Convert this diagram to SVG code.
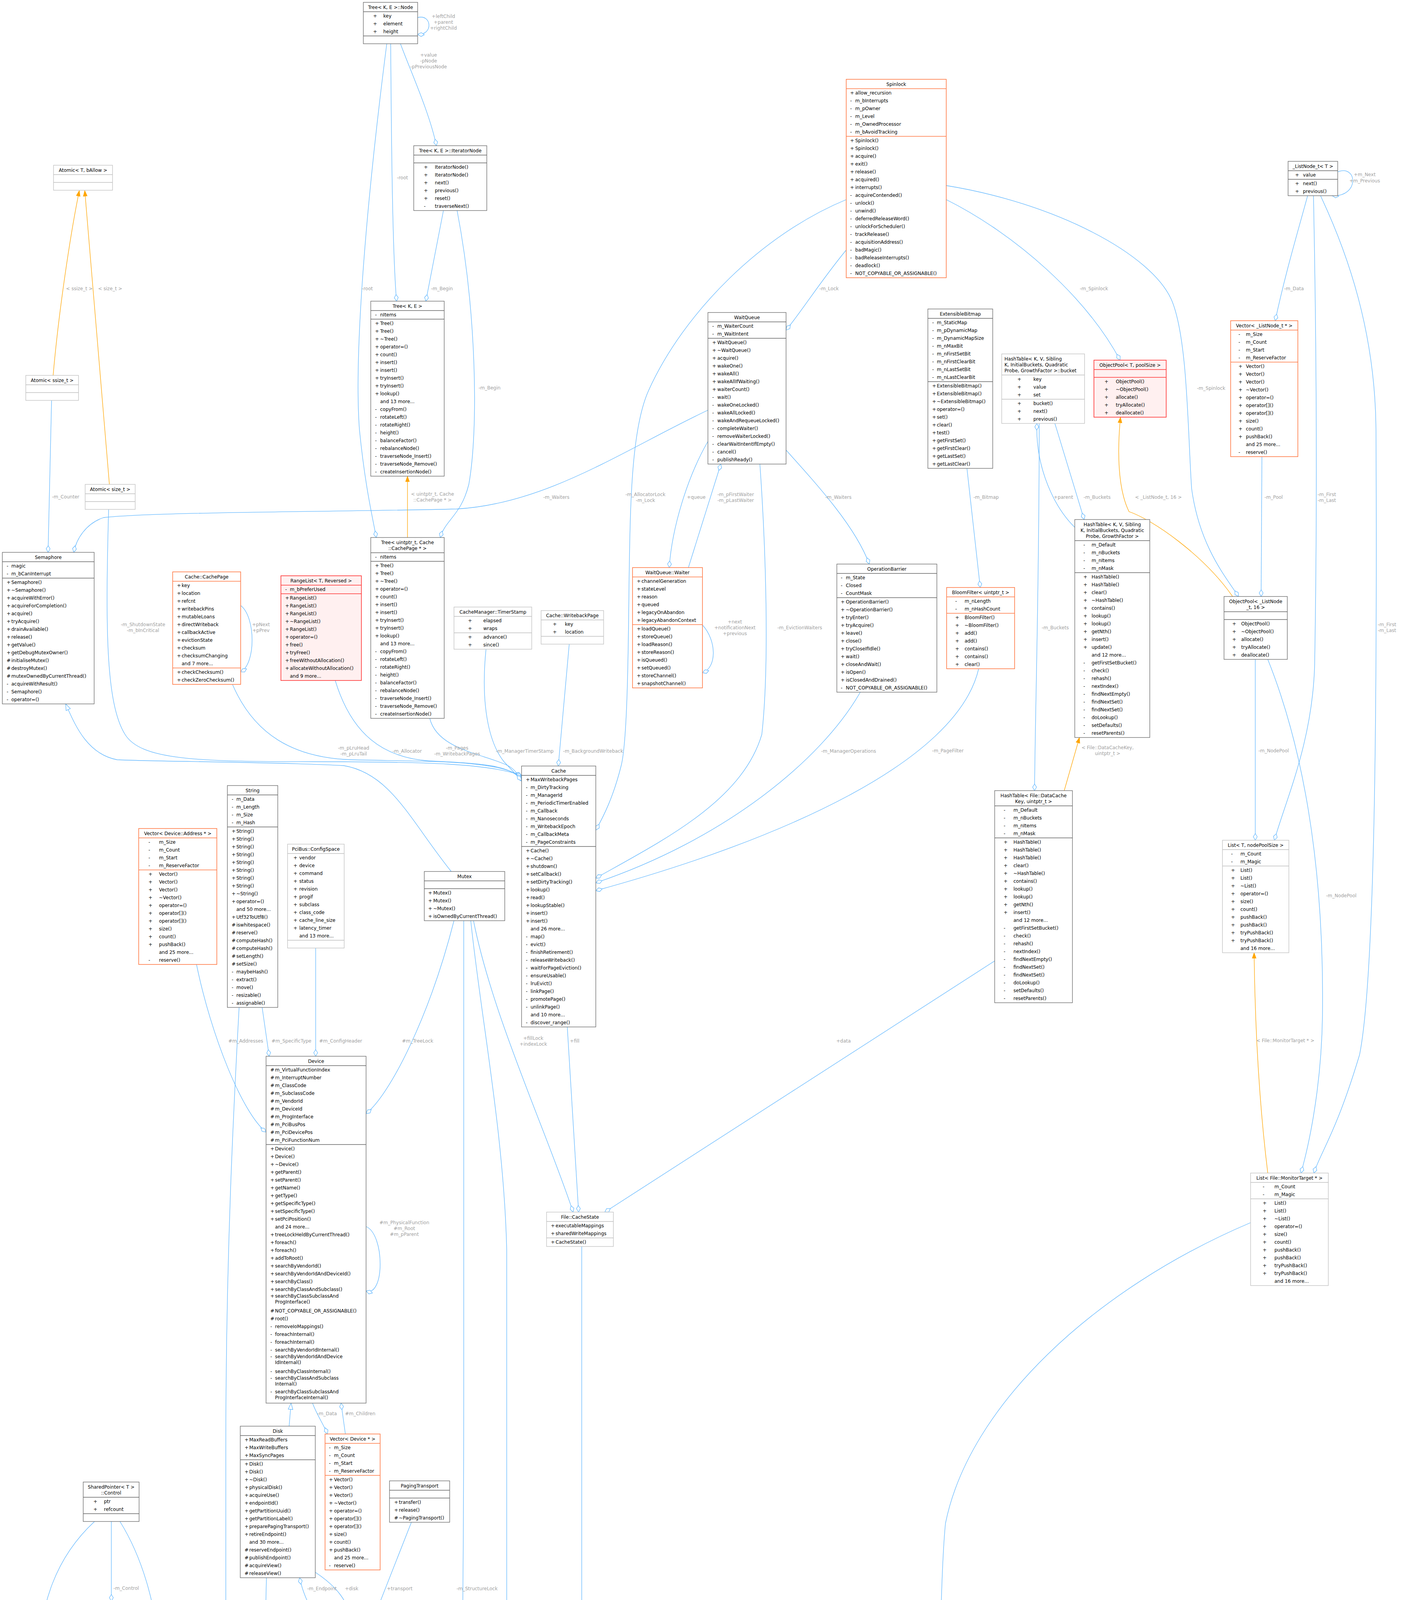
<svg xmlns="http://www.w3.org/2000/svg" width="3586" height="6736" viewBox="0 0 3586 6736">
<style>
text{font-family:"DejaVu Sans",sans-serif;font-size:12px;fill:#000}
.c{text-anchor:middle}
.l{fill:#a0a0a0;text-anchor:middle;font-size:12px}
.bd{fill:#fff;stroke:#666;stroke-width:1.3}
.bl{fill:#fff;stroke:#bfbfbf;stroke-width:1.3}
.bo{fill:#fff;stroke:#ff7a45;stroke-width:1.6}
.br{fill:#fff0f0;stroke:#ff3333;stroke-width:1.6}
.bg{fill:#999;stroke:#666;stroke-width:1.3}
.sd{stroke:#666;stroke-width:1.3}
.sl{stroke:#bfbfbf;stroke-width:1.3}
.so{stroke:#ff7a45;stroke-width:1.6}
.sr{stroke:#ff3333;stroke-width:1.6}
.e{fill:none;stroke:#63b8ff;stroke-width:1.3}
.o{fill:none;stroke:#ffa500;stroke-width:1.3}
.d{marker-end:url(#dm)}
.t{marker-end:url(#tm)}
.i{marker-end:url(#im)}
</style>
<defs>
<marker id="dm" markerUnits="userSpaceOnUse" markerWidth="20" markerHeight="12" refX="18" refY="6" orient="auto" viewBox="0 0 20 12"><path d="M1,6 L9,1 L18,6 L9,11 Z" fill="#fff" stroke="#63b8ff" stroke-width="1.3"/></marker>
<marker id="tm" markerUnits="userSpaceOnUse" markerWidth="16" markerHeight="12" refX="15" refY="6" orient="auto" viewBox="0 0 16 12"><path d="M1,1 L15,6 L1,11 Z" fill="#ffa500" stroke="#ffa500"/></marker>
<marker id="im" markerUnits="userSpaceOnUse" markerWidth="18" markerHeight="14" refX="17" refY="7" orient="auto" viewBox="0 0 18 14"><path d="M1,1 L17,7 L1,13 Z" fill="#fff" stroke="#63b8ff" stroke-width="1.3"/></marker>
</defs>
<rect width="3586" height="6736" fill="#fff"/>
<g id="edges">
<path class="e d" d="M1069,45 C1105,35 1110,90 1069,88"/>
<path class="e d" d="M1025,112 C1050,180 1100,290 1117,373"/>
<path class="e d" d="M1000,112 C1002,400 1005,650 1015,771"/>
<path class="e d" d="M990,112 C940,500 905,900 920,1100 C935,1250 955,1330 963,1376"/>
<path class="e d" d="M1135,539 L1090,771"/>
<path class="e d" d="M1170,539 C1220,800 1225,1100 1200,1240 C1180,1320 1140,1330 1127,1376"/>
<path class="o t" d="M136,961 C150,800 180,600 203,488"/>
<path class="o t" d="M280,1240 L217,488"/>
<path class="e d" d="M132,1025 L123,1414"/>
<path class="e d" d="M278,1304 C270,1600 270,1800 320,1880 C360,1945 500,1950 800,1950 C1100,1950 1250,1955 1335,1985"/>
<path class="e d" d="M1812,1050 C1600,1150 1400,1290 1169,1303 C900,1310 400,1310 265,1325 C220,1340 195,1380 189,1414"/>
<path class="e d" d="M2166,640 C2100,720 2050,800 2012,845"/>
<path class="e d" d="M2166,511 C1950,600 1750,800 1660,1000 C1615,1100 1613,1300 1610,1500 C1608,1700 1605,1900 1590,1960 C1570,2040 1545,2090 1525,2125"/>
<path class="e d" d="M2422,511 C2600,600 2780,760 2867,922"/>
<path class="e d" d="M2422,475 C2700,520 2950,650 3000,771 C3040,870 3040,1100 3050,1250 C3070,1400 3140,1480 3170,1527"/>
<path class="e d" d="M1812,1130 C1760,1220 1720,1350 1713,1453"/>
<path class="e d" d="M1762,1453 L1845,1188"/>
<path class="e d" d="M1798,1600 C1835,1640 1835,1710 1798,1722"/>
<path class="e d" d="M1945,1188 C1960,1400 1970,1700 1950,1880 C1900,2050 1700,2150 1525,2248"/>
<path class="e d" d="M2010,1150 C2100,1250 2190,1350 2225,1444"/>
<path class="e d" d="M2202,1772 C2100,1950 1850,2150 1525,2260"/>
<path class="e d" d="M2505,1712 C2450,1950 2000,2150 1525,2280"/>
<path class="e d" d="M2475,1199 L2509,1504"/>
<path class="e d" d="M2751,1350 C2700,1300 2650,1200 2654,1084"/>
<path class="e d" d="M2700,1084 C2730,1180 2760,1280 2775,1330"/>
<path class="e d" d="M2660,1084 C2660,1500 2650,1800 2648,2024"/>
<path class="o t" d="M2724,2024 L2763,1888"/>
<path class="e d" d="M3424,440 C3475,420 3480,505 3410,501"/>
<path class="e d" d="M3347,501 C3320,600 3290,700 3264,821"/>
<path class="e d" d="M3362,501 C3370,900 3372,1300 3365,1700 C3360,1900 3290,2050 3262,2151"/>
<path class="e d" d="M3380,501 C3450,650 3520,850 3522,1100 C3525,1800 3520,2500 3480,2700 C3420,2900 3380,2950 3363,3003"/>
<path class="e d" d="M3230,1169 L3228,1527"/>
<path class="o t" d="M3155,1527 C3080,1420 2950,1330 2890,1310 C2860,1250 2860,1150 2868,1068"/>
<path class="e d" d="M3213,1688 L3213,2151"/>
<path class="e d" d="M3245,1688 C3330,1900 3390,2200 3385,2600 C3382,2800 3345,2950 3330,3003"/>
<path class="o t" d="M3245,3003 C3220,2800 3212,2600 3210,2439"/>
<path class="e d" d="M3201,3130 C2800,3300 2480,3600 2420,3900 C2400,4100 2400,4800 2400,5200 C2400,5400 1500,5450 1300,5520 C1200,5560 1150,5660 1136,5740"/>
<path class="e d" d="M1489,3191 L1489,5250 C1489,5400 1250,5650 1136,5824"/>
<path class="e d" d="M1205,2357 C1230,2600 1290,2900 1297,3200 L1297,5300 C1290,5500 1200,5680 1136,5800"/>
<path class="e d" d="M1162,2357 C1100,2600 1000,2800 937,2851"/>
<path class="e d" d="M1187,2357 L1187,3500 C1187,4200 1180,4700 1160,4900 C1140,4960 1115,4980 1102,4989"/>
<path class="e d" d="M1212,2357 C1260,2600 1400,2900 1467,3103"/>
<path class="e d" d="M1452,2629 L1481,3103"/>
<path class="e d" d="M2546,2460 L1548,3103"/>
<path class="o t" d="M1043,1376 L1043,1219"/>
<path class="e d" d="M1100,1839 C1120,1920 1240,1930 1300,1960 C1320,1970 1330,1990 1335,2000"/>
<path class="e d" d="M595,1752 C650,1880 750,1940 900,1945 C1100,1950 1280,1945 1335,1990"/>
<path class="e d" d="M858,1742 C900,1880 980,1940 1100,1948 C1250,1955 1300,1960 1335,1995"/>
<path class="e d" d="M1244,1662 C1230,1800 1250,1900 1290,1950 L1335,1998"/>
<path class="e d" d="M1457,1649 L1429,1961"/>
<path class="e i" d="M1155,2231 C1050,2100 1000,1980 880,1960 C700,1950 400,1950 300,1945 C220,1930 190,1850 168,1802"/>
<path class="e d" d="M616,1550 C655,1580 655,1700 616,1720"/>
<path class="e d" d="M503,2469 C540,2650 620,2850 681,2898"/>
<path class="e d" d="M671,2579 L689,2704"/>
<path class="e d" d="M612,2579 C600,2800 578,3200 578,3700 L578,5200 C580,5600 800,5800 923,5890"/>
<path class="e d" d="M808,2427 L808,2704"/>
<path class="e d" d="M937,3140 C985,3160 985,3320 937,3305"/>
<path class="e d" d="M800,3592 C810,3620 830,3650 838,3671"/>
<path class="e d" d="M884,3671 L873,3592"/>
<path class="e i" d="M740,3651 L745,3592"/>
<path class="e d" d="M807,4025 C860,4060 895,4100 900,4159"/>
<path class="e d" d="M853,4200 C800,4140 775,4080 767,4039"/>
<path class="e d" d="M1053,3897 L950,4159"/>
<path class="e d" d="M853,4360 C820,4420 800,4490 806,4543"/>
<path class="e d" d="M892,4543 C905,4480 909,4420 909,4385"/>
<path class="e d" d="M950,4385 C975,4440 995,4520 1004,4574"/>
<path class="e d" d="M1030,4800 L1030,4929"/>
<path class="e d" d="M682,4039 C670,4500 680,4800 800,4950 C880,5050 930,5100 958,5121"/>
<path class="e d" d="M1030,5457 L1030,5518"/>
<path class="e d" d="M1136,5924 C1175,5950 1175,6080 1136,6090"/>
<path class="e d" d="M1392,6154 C1380,6350 1320,6520 1279,6566"/>
<path class="e i" d="M1190,6566 L1136,6390"/>
<path class="e d" d="M285,3895 L285,4099"/>
<path class="e d" d="M242,3895 C150,3980 95,4100 95,4300 C95,4420 100,4480 104,4507"/>
<path class="e d" d="M307,3895 C360,3980 400,4100 410,4250 C420,4400 430,4480 436,4507"/>
<path class="o t" d="M123,4507 C135,4470 160,4455 180,4450 C195,4440 205,4425 213,4400"/>
<path class="o t" d="M344,4563 C320,4530 305,4500 297,4445"/>
<path class="e d" d="M162,4868 L191,5089"/>
<path class="e d" d="M435,4868 L437,5049"/>
<path class="e i" d="M923,5945 C600,5800 340,5500 242,5295"/>
<path class="e i" d="M923,5915 C700,5750 560,5500 488,5335"/>
</g>
<g id="edge-labels">
<text class="l" x="1135" y="46">+leftChild</text><text class="l" x="1135" y="61">+parent</text><text class="l" x="1135" y="76">+rightChild</text>
<text class="l" x="1097" y="145">+value</text><text class="l" x="1097" y="160">-pNode</text><text class="l" x="1097" y="175">-pPreviousNode</text>
<text class="l" x="1030" y="459">-root</text><text class="l" x="940" y="743">-root</text>
<text class="l" x="1131" y="743">-m_Begin</text><text class="l" x="1253" y="997">-m_Begin</text>
<text class="l" x="203" y="743">&lt; ssize_t &gt;</text><text class="l" x="282" y="743">&lt; size_t &gt;</text>
<text class="l" x="168" y="1276">-m_Counter</text>
<text class="l" x="1107" y="1269">&lt; uintptr_t, Cache</text><text class="l" x="1107" y="1284">::CachePage * &gt;</text>
<text class="l" x="366" y="1603">-m_ShutdownState</text><text class="l" x="366" y="1618">-m_bInCritical</text>
<text class="l" x="668" y="1603">+pNext</text><text class="l" x="668" y="1618">+pPrev</text>
<text class="l" x="1424" y="1277">-m_Waiters</text>
<text class="l" x="1652" y="1270">-m_AllocatorLock</text><text class="l" x="1652" y="1285">-m_Lock</text>
<text class="l" x="1782" y="1277">+queue</text>
<text class="l" x="1883" y="1270">-m_pFirstWaiter</text><text class="l" x="1883" y="1285">-m_pLastWaiter</text>
<text class="l" x="2146" y="1277">-m_Waiters</text>
<text class="l" x="2122" y="743">-m_Lock</text>
<text class="l" x="2800" y="743">-m_Spinlock</text><text class="l" x="3100" y="998">-m_Spinlock</text>
<text class="l" x="2524" y="1277">-m_Bitmap</text><text class="l" x="2722" y="1277">+parent</text><text class="l" x="2808" y="1277">-m_Buckets</text>
<text class="l" x="2965" y="1277">&lt; _ListNode_t, 16 &gt;</text>
<text class="l" x="3260" y="1277">-m_Pool</text>
<text class="l" x="3396" y="1270">-m_First</text><text class="l" x="3396" y="1285">-m_Last</text>
<text class="l" x="3493" y="451">+m_Next</text><text class="l" x="3493" y="467">+m_Previous</text>
<text class="l" x="3312" y="743">-m_Data</text>
<text class="l" x="3550" y="1603">-m_First</text><text class="l" x="3550" y="1618">-m_Last</text>
<text class="l" x="1881" y="1596">+next</text><text class="l" x="1881" y="1611">+notificationNext</text><text class="l" x="1881" y="1626">+previous</text>
<text class="l" x="2047" y="1611">-m_EvictionWaiters</text>
<text class="l" x="2701" y="1611">-m_Buckets</text>
<text class="l" x="2835" y="1918">&lt; File::DataCacheKey,</text><text class="l" x="2835" y="1933">uintptr_t &gt;</text>
<text class="l" x="3260" y="1926">-m_NodePool</text><text class="l" x="3433" y="2297">-m_NodePool</text>
<text class="l" x="3290" y="2668">&lt; File::MonitorTarget * &gt;</text>
<text class="l" x="905" y="1919">-m_pLruHead</text><text class="l" x="905" y="1934">-m_pLruTail</text>
<text class="l" x="1042" y="1927">-m_Allocator</text>
<text class="l" x="1170" y="1919">-m_Pages</text><text class="l" x="1170" y="1934">-m_WritebackPages</text>
<text class="l" x="1343" y="1927">-m_ManagerTimerStamp</text>
<text class="l" x="1518" y="1927">-m_BackgroundWriteback</text>
<text class="l" x="2172" y="1927">-m_ManagerOperations</text>
<text class="l" x="2426" y="1926">-m_PageFilter</text>
<text class="l" x="629" y="2669">#m_Addresses</text><text class="l" x="746" y="2669">#m_SpecificType</text><text class="l" x="872" y="2669">#m_ConfigHeader</text>
<text class="l" x="1069" y="2669">#m_TreeLock</text>
<text class="l" x="1365" y="2662">+fillLock</text><text class="l" x="1365" y="2677">+indexLock</text>
<text class="l" x="1471" y="2669">+fill</text><text class="l" x="2159" y="2669">+data</text>
<text class="l" x="1035" y="3134">#m_PhysicalFunction</text><text class="l" x="1035" y="3149">#m_Root</text><text class="l" x="1035" y="3164">#m_pParent</text>
<text class="l" x="837" y="3623">-m_Data</text><text class="l" x="922" y="3623">#m_Children</text>
<text class="l" x="824" y="4071">-m_Endpoint</text><text class="l" x="900" y="4071">+disk</text><text class="l" x="1023" y="4071">+transport</text>
<text class="l" x="1221" y="4071">-m_StructureLock</text>
<text class="l" x="1375" y="4253">#m_DataMutationLock</text><text class="l" x="1375" y="4268">#m_Lock</text><text class="l" x="1375" y="4283">#m_MetadataLock</text><text class="l" x="1375" y="4298">#m_WriteLock</text>
<text class="l" x="1546" y="4479">#m_CacheState</text><text class="l" x="2469" y="4479">#m_MonitorTargets</text>
<text class="l" x="323" y="4070">-m_Control</text><text class="l" x="165" y="4274">-m_Control</text><text class="l" x="473" y="4274">-m_Control</text>
<text class="l" x="618" y="4274">#m_Name</text>
<text class="l" x="208" y="4478">&lt; ReadinessState &gt;</text><text class="l" x="370" y="4478">&lt; FileEventState &gt;</text>
<text class="l" x="715" y="4478">#m_pDisk</text>
<text class="l" x="857" y="4478">-m_Endpoint</text><text class="l" x="941" y="4478">+channel</text><text class="l" x="1027" y="4478">-m_Endpoint</text>
<text class="l" x="233" y="4901">-m_ReadinessState</text><text class="l" x="499" y="4901">-m_FileEventState</text>
<text class="l" x="1071" y="4901">#m_DiskUse</text>
<text class="l" x="1089" y="5489">#m_pFilesystem</text>
<text class="l" x="1236" y="6006">#m_pDetachedParent</text><text class="l" x="1236" y="6021">#m_pParent</text>
<text class="l" x="1341" y="6538">-m_Serial</text>
</g>
<g id="n_node"><rect class="bd" x="930" y="6" width="139" height="106"/><text class="c" x="999.5" y="23">Tree&lt; K, E &gt;::Node</text><path class="sd" d="M930,30H1069M930,92H1069"/>
<text y="45"><tspan x="955">+</tspan><tspan x="981">key</tspan></text><text y="65"><tspan x="955">+</tspan><tspan x="981">element</tspan></text><text y="85"><tspan x="955">+</tspan><tspan x="981">height</tspan></text></g>
<g id="n_iternode"><rect class="bd" x="1059" y="373" width="187" height="166"/><text class="c" x="1152.5" y="390">Tree&lt; K, E &gt;::IteratorNode</text><path class="sd" d="M1059,397H1246M1059,417H1246"/>
<text y="432"><tspan x="1085">+</tspan><tspan x="1113">IteratorNode()</tspan></text><text y="452"><tspan x="1085">+</tspan><tspan x="1113">IteratorNode()</tspan></text><text y="472"><tspan x="1085">+</tspan><tspan x="1113">next()</tspan></text><text y="492"><tspan x="1085">+</tspan><tspan x="1113">previous()</tspan></text><text y="512"><tspan x="1085">+</tspan><tspan x="1113">reset()</tspan></text><text y="532"><tspan x="1085">-</tspan><tspan x="1113">traverseNext()</tspan></text></g>
<g id="n_atomicT"><rect class="bl" x="137" y="423" width="151" height="64"/><text class="c" x="212.5" y="440">Atomic&lt; T, bAllow &gt;</text><path class="sl" d="M137,447H288M137,467H288"/></g>
<g id="n_atomicss"><rect class="bl" x="66" y="961" width="135" height="64"/><text class="c" x="133.5" y="978">Atomic&lt; ssize_t &gt;</text><path class="sl" d="M66,985H201M66,1005H201"/></g>
<g id="n_atomics"><rect class="bl" x="218" y="1240" width="128" height="64"/><text class="c" x="282" y="1257">Atomic&lt; size_t &gt;</text><path class="sl" d="M218,1264H346M218,1284H346"/></g>
<g id="n_tree"><rect class="bd" x="949" y="771" width="188" height="448"/><text class="c" x="1043" y="788">Tree&lt; K, E &gt;</text><path class="sd" d="M949,795H1137M949,817H1137"/>
<text y="810"><tspan x="960">-</tspan><tspan x="973">nItems</tspan></text>
<text y="832"><tspan x="960">+</tspan><tspan x="973">Tree()</tspan></text><text y="852"><tspan x="960">+</tspan><tspan x="973">Tree()</tspan></text><text y="872"><tspan x="960">+</tspan><tspan x="973">~Tree()</tspan></text><text y="892"><tspan x="960">+</tspan><tspan x="973">operator=()</tspan></text><text y="912"><tspan x="960">+</tspan><tspan x="973">count()</tspan></text><text y="932"><tspan x="960">+</tspan><tspan x="973">insert()</tspan></text><text y="952"><tspan x="960">+</tspan><tspan x="973">insert()</tspan></text><text y="972"><tspan x="960">+</tspan><tspan x="973">tryInsert()</tspan></text><text y="992"><tspan x="960">+</tspan><tspan x="973">tryInsert()</tspan></text><text y="1012"><tspan x="960">+</tspan><tspan x="973">lookup()</tspan></text><text x="973" y="1032">and 13 more...</text><text y="1052"><tspan x="960">-</tspan><tspan x="973">copyFrom()</tspan></text><text y="1072"><tspan x="960">-</tspan><tspan x="973">rotateLeft()</tspan></text><text y="1092"><tspan x="960">-</tspan><tspan x="973">rotateRight()</tspan></text><text y="1112"><tspan x="960">-</tspan><tspan x="973">height()</tspan></text><text y="1132"><tspan x="960">-</tspan><tspan x="973">balanceFactor()</tspan></text><text y="1152"><tspan x="960">-</tspan><tspan x="973">rebalanceNode()</tspan></text><text y="1172"><tspan x="960">-</tspan><tspan x="973">traverseNode_Insert()</tspan></text><text y="1192"><tspan x="960">-</tspan><tspan x="973">traverseNode_Remove()</tspan></text><text y="1212"><tspan x="960">-</tspan><tspan x="973">createInsertionNode()</tspan></text></g>
<g id="n_treeu"><rect class="bd" x="949" y="1376" width="188" height="463"/><text class="c" x="1043" y="1393">Tree&lt; uintptr_t, Cache</text><text class="c" x="1043" y="1408">::CachePage * &gt;</text><path class="sd" d="M949,1415H1137M949,1437H1137"/>
<text y="1430"><tspan x="960">-</tspan><tspan x="973">nItems</tspan></text>
<text y="1452"><tspan x="960">+</tspan><tspan x="973">Tree()</tspan></text><text y="1472"><tspan x="960">+</tspan><tspan x="973">Tree()</tspan></text><text y="1492"><tspan x="960">+</tspan><tspan x="973">~Tree()</tspan></text><text y="1512"><tspan x="960">+</tspan><tspan x="973">operator=()</tspan></text><text y="1532"><tspan x="960">+</tspan><tspan x="973">count()</tspan></text><text y="1552"><tspan x="960">+</tspan><tspan x="973">insert()</tspan></text><text y="1572"><tspan x="960">+</tspan><tspan x="973">insert()</tspan></text><text y="1592"><tspan x="960">+</tspan><tspan x="973">tryInsert()</tspan></text><text y="1612"><tspan x="960">+</tspan><tspan x="973">tryInsert()</tspan></text><text y="1632"><tspan x="960">+</tspan><tspan x="973">lookup()</tspan></text><text x="973" y="1652">and 13 more...</text><text y="1672"><tspan x="960">-</tspan><tspan x="973">copyFrom()</tspan></text><text y="1692"><tspan x="960">-</tspan><tspan x="973">rotateLeft()</tspan></text><text y="1712"><tspan x="960">-</tspan><tspan x="973">rotateRight()</tspan></text><text y="1732"><tspan x="960">-</tspan><tspan x="973">height()</tspan></text><text y="1752"><tspan x="960">-</tspan><tspan x="973">balanceFactor()</tspan></text><text y="1772"><tspan x="960">-</tspan><tspan x="973">rebalanceNode()</tspan></text><text y="1792"><tspan x="960">-</tspan><tspan x="973">traverseNode_Insert()</tspan></text><text y="1812"><tspan x="960">-</tspan><tspan x="973">traverseNode_Remove()</tspan></text><text y="1832"><tspan x="960">-</tspan><tspan x="973">createInsertionNode()</tspan></text></g>
<g id="n_spinlock"><rect class="bo" x="2166" y="203" width="256" height="508"/><text class="c" x="2294" y="220">Spinlock</text><path class="so" d="M2166,227H2422M2166,349H2422"/>
<text y="242"><tspan x="2176">+</tspan><tspan x="2189">allow_recursion</tspan></text><text y="262"><tspan x="2176">-</tspan><tspan x="2189">m_bInterrupts</tspan></text><text y="282"><tspan x="2176">-</tspan><tspan x="2189">m_pOwner</tspan></text><text y="302"><tspan x="2176">-</tspan><tspan x="2189">m_Level</tspan></text><text y="322"><tspan x="2176">-</tspan><tspan x="2189">m_OwnedProcessor</tspan></text><text y="342"><tspan x="2176">-</tspan><tspan x="2189">m_bAvoidTracking</tspan></text>
<text y="364"><tspan x="2176">+</tspan><tspan x="2189">Spinlock()</tspan></text><text y="384"><tspan x="2176">+</tspan><tspan x="2189">Spinlock()</tspan></text><text y="404"><tspan x="2176">+</tspan><tspan x="2189">acquire()</tspan></text><text y="424"><tspan x="2176">+</tspan><tspan x="2189">exit()</tspan></text><text y="444"><tspan x="2176">+</tspan><tspan x="2189">release()</tspan></text><text y="464"><tspan x="2176">+</tspan><tspan x="2189">acquired()</tspan></text><text y="484"><tspan x="2176">+</tspan><tspan x="2189">interrupts()</tspan></text><text y="504"><tspan x="2176">-</tspan><tspan x="2189">acquireContended()</tspan></text><text y="524"><tspan x="2176">-</tspan><tspan x="2189">unlock()</tspan></text><text y="544"><tspan x="2176">-</tspan><tspan x="2189">unwind()</tspan></text><text y="564"><tspan x="2176">-</tspan><tspan x="2189">deferredReleaseWord()</tspan></text><text y="584"><tspan x="2176">-</tspan><tspan x="2189">unlockForScheduler()</tspan></text><text y="604"><tspan x="2176">-</tspan><tspan x="2189">trackRelease()</tspan></text><text y="624"><tspan x="2176">-</tspan><tspan x="2189">acquisitionAddress()</tspan></text><text y="644"><tspan x="2176">-</tspan><tspan x="2189">badMagic()</tspan></text><text y="664"><tspan x="2176">-</tspan><tspan x="2189">badReleaseInterrupts()</tspan></text><text y="684"><tspan x="2176">-</tspan><tspan x="2189">deadlock()</tspan></text><text y="704"><tspan x="2176">-</tspan><tspan x="2189">NOT_COPYABLE_OR_ASSIGNABLE()</tspan></text></g>
<g id="n_waitqueue"><rect class="bd" x="1812" y="800" width="200" height="388"/><text class="c" x="1912" y="817">WaitQueue</text><path class="sd" d="M1812,824H2012M1812,866H2012"/>
<text y="839"><tspan x="1823">-</tspan><tspan x="1836">m_WaiterCount</tspan></text><text y="859"><tspan x="1823">-</tspan><tspan x="1836">m_WaitIntent</tspan></text>
<text y="881"><tspan x="1823">+</tspan><tspan x="1836">WaitQueue()</tspan></text><text y="901"><tspan x="1823">+</tspan><tspan x="1836">~WaitQueue()</tspan></text><text y="921"><tspan x="1823">+</tspan><tspan x="1836">acquire()</tspan></text><text y="941"><tspan x="1823">+</tspan><tspan x="1836">wakeOne()</tspan></text><text y="961"><tspan x="1823">+</tspan><tspan x="1836">wakeAll()</tspan></text><text y="981"><tspan x="1823">+</tspan><tspan x="1836">wakeAllIfWaiting()</tspan></text><text y="1001"><tspan x="1823">+</tspan><tspan x="1836">waiterCount()</tspan></text><text y="1021"><tspan x="1823">-</tspan><tspan x="1836">wait()</tspan></text><text y="1041"><tspan x="1823">-</tspan><tspan x="1836">wakeOneLocked()</tspan></text><text y="1061"><tspan x="1823">-</tspan><tspan x="1836">wakeAllLocked()</tspan></text><text y="1081"><tspan x="1823">-</tspan><tspan x="1836">wakeAndRequeueLocked()</tspan></text><text y="1101"><tspan x="1823">-</tspan><tspan x="1836">completeWaiter()</tspan></text><text y="1121"><tspan x="1823">-</tspan><tspan x="1836">removeWaiterLocked()</tspan></text><text y="1141"><tspan x="1823">-</tspan><tspan x="1836">clearWaitIntentIfEmpty()</tspan></text><text y="1161"><tspan x="1823">-</tspan><tspan x="1836">cancel()</tspan></text><text y="1181"><tspan x="1823">-</tspan><tspan x="1836">publishReady()</tspan></text></g>
<g id="n_extbitmap"><rect class="bd" x="2375" y="791" width="166" height="408"/><text class="c" x="2458" y="808">ExtensibleBitmap</text><path class="sd" d="M2375,815H2541M2375,977H2541"/>
<text y="830"><tspan x="2386">-</tspan><tspan x="2398">m_StaticMap</tspan></text><text y="850"><tspan x="2386">-</tspan><tspan x="2398">m_pDynamicMap</tspan></text><text y="870"><tspan x="2386">-</tspan><tspan x="2398">m_DynamicMapSize</tspan></text><text y="890"><tspan x="2386">-</tspan><tspan x="2398">m_nMaxBit</tspan></text><text y="910"><tspan x="2386">-</tspan><tspan x="2398">m_nFirstSetBit</tspan></text><text y="930"><tspan x="2386">-</tspan><tspan x="2398">m_nFirstClearBit</tspan></text><text y="950"><tspan x="2386">-</tspan><tspan x="2398">m_nLastSetBit</tspan></text><text y="970"><tspan x="2386">-</tspan><tspan x="2398">m_nLastClearBit</tspan></text>
<text y="992"><tspan x="2386">+</tspan><tspan x="2398">ExtensibleBitmap()</tspan></text><text y="1012"><tspan x="2386">+</tspan><tspan x="2398">ExtensibleBitmap()</tspan></text><text y="1032"><tspan x="2386">+</tspan><tspan x="2398">~ExtensibleBitmap()</tspan></text><text y="1052"><tspan x="2386">+</tspan><tspan x="2398">operator=()</tspan></text><text y="1072"><tspan x="2386">+</tspan><tspan x="2398">set()</tspan></text><text y="1092"><tspan x="2386">+</tspan><tspan x="2398">clear()</tspan></text><text y="1112"><tspan x="2386">+</tspan><tspan x="2398">test()</tspan></text><text y="1132"><tspan x="2386">+</tspan><tspan x="2398">getFirstSet()</tspan></text><text y="1152"><tspan x="2386">+</tspan><tspan x="2398">getFirstClear()</tspan></text><text y="1172"><tspan x="2386">+</tspan><tspan x="2398">getLastSet()</tspan></text><text y="1192"><tspan x="2386">+</tspan><tspan x="2398">getLastClear()</tspan></text></g>
<g id="n_bucket"><rect class="bl" x="2564" y="906" width="212" height="178"/><text x="2571" y="923">HashTable&lt; K, V, Sibling</text><text x="2571" y="938">K, InitialBuckets, Quadratic</text><text x="2571" y="953">Probe, GrowthFactor &gt;::bucket</text><path class="sl" d="M2564,960H2776M2564,1022H2776"/>
<text y="975"><tspan x="2604">+</tspan><tspan x="2645">key</tspan></text><text y="995"><tspan x="2604">+</tspan><tspan x="2645">value</tspan></text><text y="1015"><tspan x="2604">+</tspan><tspan x="2645">set</tspan></text>
<text y="1037"><tspan x="2604">+</tspan><tspan x="2645">bucket()</tspan></text><text y="1057"><tspan x="2604">+</tspan><tspan x="2645">next()</tspan></text><text y="1077"><tspan x="2604">+</tspan><tspan x="2645">previous()</tspan></text></g>
<g id="n_objpool"><rect class="br" x="2800" y="922" width="185" height="146"/><text class="c" x="2892.5" y="939">ObjectPool&lt; T, poolSize &gt;</text><path class="sr" d="M2800,946H2985M2800,966H2985"/>
<text y="981"><tspan x="2827">+</tspan><tspan x="2856">ObjectPool()</tspan></text><text y="1001"><tspan x="2827">+</tspan><tspan x="2856">~ObjectPool()</tspan></text><text y="1021"><tspan x="2827">+</tspan><tspan x="2856">allocate()</tspan></text><text y="1041"><tspan x="2827">+</tspan><tspan x="2856">tryAllocate()</tspan></text><text y="1061"><tspan x="2827">+</tspan><tspan x="2856">deallocate()</tspan></text></g>
<g id="n_listnode"><rect class="bd" x="3297" y="413" width="127" height="88"/><text class="c" x="3360.5" y="430">_ListNode_t&lt; T &gt;</text><path class="sd" d="M3297,437H3424M3297,459H3424"/>
<text y="452"><tspan x="3315">+</tspan><tspan x="3335">value</tspan></text><text y="474"><tspan x="3315">+</tspan><tspan x="3335">next()</tspan></text><text y="494"><tspan x="3315">+</tspan><tspan x="3335">previous()</tspan></text></g>
<g id="n_vecln"><rect class="bo" x="3150" y="821" width="172" height="348"/><text class="c" x="3236" y="838">Vector&lt; _ListNode_t * &gt;</text><path class="so" d="M3150,845H3322M3150,927H3322"/>
<text y="860"><tspan x="3170">-</tspan><tspan x="3189">m_Size</tspan></text><text y="880"><tspan x="3170">-</tspan><tspan x="3189">m_Count</tspan></text><text y="900"><tspan x="3170">-</tspan><tspan x="3189">m_Start</tspan></text><text y="920"><tspan x="3170">-</tspan><tspan x="3189">m_ReserveFactor</tspan></text>
<text y="942"><tspan x="3170">+</tspan><tspan x="3189">Vector()</tspan></text><text y="962"><tspan x="3170">+</tspan><tspan x="3189">Vector()</tspan></text><text y="982"><tspan x="3170">+</tspan><tspan x="3189">Vector()</tspan></text><text y="1002"><tspan x="3170">+</tspan><tspan x="3189">~Vector()</tspan></text><text y="1022"><tspan x="3170">+</tspan><tspan x="3189">operator=()</tspan></text><text y="1042"><tspan x="3170">+</tspan><tspan x="3189">operator[]()</tspan></text><text y="1062"><tspan x="3170">+</tspan><tspan x="3189">operator[]()</tspan></text><text y="1082"><tspan x="3170">+</tspan><tspan x="3189">size()</tspan></text><text y="1102"><tspan x="3170">+</tspan><tspan x="3189">count()</tspan></text><text y="1122"><tspan x="3170">+</tspan><tspan x="3189">pushBack()</tspan></text><text x="3189" y="1142">and 25 more...</text><text y="1162"><tspan x="3170">-</tspan><tspan x="3189">reserve()</tspan></text></g>
<g id="n_semaphore"><rect class="bd" x="6" y="1414" width="235" height="388"/><text class="c" x="123.5" y="1431">Semaphore</text><path class="sd" d="M6,1438H241M6,1480H241"/>
<text y="1453"><tspan x="17">-</tspan><tspan x="29">magic</tspan></text><text y="1473"><tspan x="17">-</tspan><tspan x="29">m_bCanInterrupt</tspan></text>
<text y="1495"><tspan x="17">+</tspan><tspan x="29">Semaphore()</tspan></text><text y="1515"><tspan x="17">+</tspan><tspan x="29">~Semaphore()</tspan></text><text y="1535"><tspan x="17">+</tspan><tspan x="29">acquireWithError()</tspan></text><text y="1555"><tspan x="17">+</tspan><tspan x="29">acquireForCompletion()</tspan></text><text y="1575"><tspan x="17">+</tspan><tspan x="29">acquire()</tspan></text><text y="1595"><tspan x="17">+</tspan><tspan x="29">tryAcquire()</tspan></text><text y="1615"><tspan x="17">+</tspan><tspan x="29">drainAvailable()</tspan></text><text y="1635"><tspan x="17">+</tspan><tspan x="29">release()</tspan></text><text y="1655"><tspan x="17">+</tspan><tspan x="29">getValue()</tspan></text><text y="1675"><tspan x="17">+</tspan><tspan x="29">getDebugMutexOwner()</tspan></text><text y="1695"><tspan x="17">#</tspan><tspan x="29">initialiseMutex()</tspan></text><text y="1715"><tspan x="17">#</tspan><tspan x="29">destroyMutex()</tspan></text><text y="1735"><tspan x="17">#</tspan><tspan x="29">mutexOwnedByCurrentThread()</tspan></text><text y="1755"><tspan x="17">-</tspan><tspan x="29">acquireWithResult()</tspan></text><text y="1775"><tspan x="17">-</tspan><tspan x="29">Semaphore()</tspan></text><text y="1795"><tspan x="17">-</tspan><tspan x="29">operator=()</tspan></text></g>
<g id="n_cachepage"><rect class="bo" x="442" y="1464" width="174" height="288"/><text class="c" x="529" y="1481">Cache::CachePage</text><path class="so" d="M442,1488H616M442,1710H616"/>
<text y="1503"><tspan x="453">+</tspan><tspan x="465">key</tspan></text><text y="1523"><tspan x="453">+</tspan><tspan x="465">location</tspan></text><text y="1543"><tspan x="453">+</tspan><tspan x="465">refcnt</tspan></text><text y="1563"><tspan x="453">+</tspan><tspan x="465">writebackPins</tspan></text><text y="1583"><tspan x="453">+</tspan><tspan x="465">mutableLoans</tspan></text><text y="1603"><tspan x="453">+</tspan><tspan x="465">directWriteback</tspan></text><text y="1623"><tspan x="453">+</tspan><tspan x="465">callbackActive</tspan></text><text y="1643"><tspan x="453">+</tspan><tspan x="465">evictionState</tspan></text><text y="1663"><tspan x="453">+</tspan><tspan x="465">checksum</tspan></text><text y="1683"><tspan x="453">+</tspan><tspan x="465">checksumChanging</tspan></text><text x="465" y="1703">and 7 more...</text>
<text y="1725"><tspan x="453">+</tspan><tspan x="465">checkChecksum()</tspan></text><text y="1745"><tspan x="453">+</tspan><tspan x="465">checkZeroChecksum()</tspan></text></g>
<g id="n_rangelist"><rect class="br" x="719" y="1474" width="206" height="268"/><text class="c" x="822" y="1491">RangeList&lt; T, Reversed &gt;</text><path class="sr" d="M719,1498H925M719,1520H925"/>
<text y="1513"><tspan x="730">-</tspan><tspan x="742">m_bPreferUsed</tspan></text>
<text y="1535"><tspan x="730">+</tspan><tspan x="742">RangeList()</tspan></text><text y="1555"><tspan x="730">+</tspan><tspan x="742">RangeList()</tspan></text><text y="1575"><tspan x="730">+</tspan><tspan x="742">RangeList()</tspan></text><text y="1595"><tspan x="730">+</tspan><tspan x="742">~RangeList()</tspan></text><text y="1615"><tspan x="730">+</tspan><tspan x="742">RangeList()</tspan></text><text y="1635"><tspan x="730">+</tspan><tspan x="742">operator=()</tspan></text><text y="1655"><tspan x="730">+</tspan><tspan x="742">free()</tspan></text><text y="1675"><tspan x="730">+</tspan><tspan x="742">tryFree()</tspan></text><text y="1695"><tspan x="730">+</tspan><tspan x="742">freeWithoutAllocation()</tspan></text><text y="1715"><tspan x="730">+</tspan><tspan x="742">allocateWithoutAllocation()</tspan></text><text x="742" y="1735">and 9 more...</text></g>
<g id="n_timerstamp"><rect class="bl" x="1162" y="1554" width="199" height="108"/><text class="c" x="1261.5" y="1571">CacheManager::TimerStamp</text><path class="sl" d="M1162,1578H1361M1162,1620H1361"/>
<text y="1593"><tspan x="1198">+</tspan><tspan x="1237">elapsed</tspan></text><text y="1613"><tspan x="1198">+</tspan><tspan x="1237">wraps</tspan></text><text y="1635"><tspan x="1198">+</tspan><tspan x="1237">advance()</tspan></text><text y="1655"><tspan x="1198">+</tspan><tspan x="1237">since()</tspan></text></g>
<g id="n_wbpage"><rect class="bl" x="1385" y="1563" width="160" height="86"/><text class="c" x="1465" y="1580">Cache::WritebackPage</text><path class="sl" d="M1385,1587H1545M1385,1629H1545"/>
<text y="1602"><tspan x="1415">+</tspan><tspan x="1446">key</tspan></text><text y="1622"><tspan x="1415">+</tspan><tspan x="1446">location</tspan></text></g>
<g id="n_waiter"><rect class="bo" x="1619" y="1453" width="179" height="308"/><text class="c" x="1708.5" y="1470">WaitQueue::Waiter</text><path class="so" d="M1619,1477H1798M1619,1599H1798"/>
<text y="1492"><tspan x="1630">+</tspan><tspan x="1642">channelGeneration</tspan></text><text y="1512"><tspan x="1630">+</tspan><tspan x="1642">stateLevel</tspan></text><text y="1532"><tspan x="1630">+</tspan><tspan x="1642">reason</tspan></text><text y="1552"><tspan x="1630">+</tspan><tspan x="1642">queued</tspan></text><text y="1572"><tspan x="1630">+</tspan><tspan x="1642">legacyOnAbandon</tspan></text><text y="1592"><tspan x="1630">+</tspan><tspan x="1642">legacyAbandonContext</tspan></text>
<text y="1614"><tspan x="1630">+</tspan><tspan x="1642">loadQueue()</tspan></text><text y="1634"><tspan x="1630">+</tspan><tspan x="1642">storeQueue()</tspan></text><text y="1654"><tspan x="1630">+</tspan><tspan x="1642">loadReason()</tspan></text><text y="1674"><tspan x="1630">+</tspan><tspan x="1642">storeReason()</tspan></text><text y="1694"><tspan x="1630">+</tspan><tspan x="1642">isQueued()</tspan></text><text y="1714"><tspan x="1630">+</tspan><tspan x="1642">setQueued()</tspan></text><text y="1734"><tspan x="1630">+</tspan><tspan x="1642">storeChannel()</tspan></text><text y="1754"><tspan x="1630">+</tspan><tspan x="1642">snapshotChannel()</tspan></text></g>
<g id="n_opbarrier"><rect class="bd" x="2142" y="1444" width="256" height="328"/><text class="c" x="2270" y="1461">OperationBarrier</text><path class="sd" d="M2142,1468H2398M2142,1530H2398"/>
<text y="1483"><tspan x="2152">-</tspan><tspan x="2165">m_State</tspan></text><text y="1503"><tspan x="2152">-</tspan><tspan x="2165">Closed</tspan></text><text y="1523"><tspan x="2152">-</tspan><tspan x="2165">CountMask</tspan></text>
<text y="1545"><tspan x="2152">+</tspan><tspan x="2165">OperationBarrier()</tspan></text><text y="1565"><tspan x="2152">+</tspan><tspan x="2165">~OperationBarrier()</tspan></text><text y="1585"><tspan x="2152">+</tspan><tspan x="2165">tryEnter()</tspan></text><text y="1605"><tspan x="2152">+</tspan><tspan x="2165">tryAcquire()</tspan></text><text y="1625"><tspan x="2152">+</tspan><tspan x="2165">leave()</tspan></text><text y="1645"><tspan x="2152">+</tspan><tspan x="2165">close()</tspan></text><text y="1665"><tspan x="2152">+</tspan><tspan x="2165">tryCloseIfIdle()</tspan></text><text y="1685"><tspan x="2152">+</tspan><tspan x="2165">wait()</tspan></text><text y="1705"><tspan x="2152">+</tspan><tspan x="2165">closeAndWait()</tspan></text><text y="1725"><tspan x="2152">+</tspan><tspan x="2165">isOpen()</tspan></text><text y="1745"><tspan x="2152">+</tspan><tspan x="2165">isClosedAndDrained()</tspan></text><text y="1765"><tspan x="2152">-</tspan><tspan x="2165">NOT_COPYABLE_OR_ASSIGNABLE()</tspan></text></g>
<g id="n_bloom"><rect class="bo" x="2423" y="1504" width="174" height="208"/><text class="c" x="2510" y="1521">BloomFilter&lt; uintptr_t &gt;</text><path class="so" d="M2423,1528H2597M2423,1570H2597"/>
<text y="1543"><tspan x="2445">-</tspan><tspan x="2469">m_nLength</tspan></text><text y="1563"><tspan x="2445">-</tspan><tspan x="2469">m_nHashCount</tspan></text>
<text y="1585"><tspan x="2445">+</tspan><tspan x="2469">BloomFilter()</tspan></text><text y="1605"><tspan x="2445">+</tspan><tspan x="2469">~BloomFilter()</tspan></text><text y="1625"><tspan x="2445">+</tspan><tspan x="2469">add()</tspan></text><text y="1645"><tspan x="2445">+</tspan><tspan x="2469">add()</tspan></text><text y="1665"><tspan x="2445">+</tspan><tspan x="2469">contains()</tspan></text><text y="1685"><tspan x="2445">+</tspan><tspan x="2469">contains()</tspan></text><text y="1705"><tspan x="2445">+</tspan><tspan x="2469">clear()</tspan></text></g>
<g id="n_hashtable"><rect class="bd" x="2751" y="1330" width="192" height="558"/><text class="c" x="2847" y="1347">HashTable&lt; K, V, Sibling</text><text class="c" x="2847" y="1362">K, InitialBuckets, Quadratic</text><text class="c" x="2847" y="1377">Probe, GrowthFactor &gt;</text><path class="sd" d="M2751,1384H2943M2751,1466H2943"/>
<text y="1399"><tspan x="2773">-</tspan><tspan x="2794">m_Default</tspan></text><text y="1419"><tspan x="2773">-</tspan><tspan x="2794">m_nBuckets</tspan></text><text y="1439"><tspan x="2773">-</tspan><tspan x="2794">m_nItems</tspan></text><text y="1459"><tspan x="2773">-</tspan><tspan x="2794">m_nMask</tspan></text>
<text y="1481"><tspan x="2773">+</tspan><tspan x="2794">HashTable()</tspan></text><text y="1501"><tspan x="2773">+</tspan><tspan x="2794">HashTable()</tspan></text><text y="1521"><tspan x="2773">+</tspan><tspan x="2794">clear()</tspan></text><text y="1541"><tspan x="2773">+</tspan><tspan x="2794">~HashTable()</tspan></text><text y="1561"><tspan x="2773">+</tspan><tspan x="2794">contains()</tspan></text><text y="1581"><tspan x="2773">+</tspan><tspan x="2794">lookup()</tspan></text><text y="1601"><tspan x="2773">+</tspan><tspan x="2794">lookup()</tspan></text><text y="1621"><tspan x="2773">+</tspan><tspan x="2794">getNth()</tspan></text><text y="1641"><tspan x="2773">+</tspan><tspan x="2794">insert()</tspan></text><text y="1661"><tspan x="2773">+</tspan><tspan x="2794">update()</tspan></text><text x="2794" y="1681">and 12 more...</text><text y="1701"><tspan x="2773">-</tspan><tspan x="2794">getFirstSetBucket()</tspan></text><text y="1721"><tspan x="2773">-</tspan><tspan x="2794">check()</tspan></text><text y="1741"><tspan x="2773">-</tspan><tspan x="2794">rehash()</tspan></text><text y="1761"><tspan x="2773">-</tspan><tspan x="2794">nextIndex()</tspan></text><text y="1781"><tspan x="2773">-</tspan><tspan x="2794">findNextEmpty()</tspan></text><text y="1801"><tspan x="2773">-</tspan><tspan x="2794">findNextSet()</tspan></text><text y="1821"><tspan x="2773">-</tspan><tspan x="2794">findNextSet()</tspan></text><text y="1841"><tspan x="2773">-</tspan><tspan x="2794">doLookup()</tspan></text><text y="1861"><tspan x="2773">-</tspan><tspan x="2794">setDefaults()</tspan></text><text y="1881"><tspan x="2773">-</tspan><tspan x="2794">resetParents()</tspan></text></g>
<g id="n_objpool16"><rect class="bd" x="3133" y="1527" width="162" height="161"/><text class="c" x="3214" y="1544">ObjectPool&lt; _ListNode</text><text class="c" x="3214" y="1559">_t, 16 &gt;</text><path class="sd" d="M3133,1566H3295M3133,1586H3295"/>
<text y="1601"><tspan x="3154">+</tspan><tspan x="3177">ObjectPool()</tspan></text><text y="1621"><tspan x="3154">+</tspan><tspan x="3177">~ObjectPool()</tspan></text><text y="1641"><tspan x="3154">+</tspan><tspan x="3177">allocate()</tspan></text><text y="1661"><tspan x="3154">+</tspan><tspan x="3177">tryAllocate()</tspan></text><text y="1681"><tspan x="3154">+</tspan><tspan x="3177">deallocate()</tspan></text></g>
<g id="n_htfile"><rect class="bd" x="2546" y="2024" width="199" height="543"/><text class="c" x="2645.5" y="2041">HashTable&lt; File::DataCache</text><text class="c" x="2645.5" y="2056">Key, uintptr_t &gt;</text><path class="sd" d="M2546,2063H2745M2546,2145H2745"/>
<text y="2078"><tspan x="2569">-</tspan><tspan x="2594">m_Default</tspan></text><text y="2098"><tspan x="2569">-</tspan><tspan x="2594">m_nBuckets</tspan></text><text y="2118"><tspan x="2569">-</tspan><tspan x="2594">m_nItems</tspan></text><text y="2138"><tspan x="2569">-</tspan><tspan x="2594">m_nMask</tspan></text>
<text y="2160"><tspan x="2569">+</tspan><tspan x="2594">HashTable()</tspan></text><text y="2180"><tspan x="2569">+</tspan><tspan x="2594">HashTable()</tspan></text><text y="2200"><tspan x="2569">+</tspan><tspan x="2594">HashTable()</tspan></text><text y="2220"><tspan x="2569">+</tspan><tspan x="2594">clear()</tspan></text><text y="2240"><tspan x="2569">+</tspan><tspan x="2594">~HashTable()</tspan></text><text y="2260"><tspan x="2569">+</tspan><tspan x="2594">contains()</tspan></text><text y="2280"><tspan x="2569">+</tspan><tspan x="2594">lookup()</tspan></text><text y="2300"><tspan x="2569">+</tspan><tspan x="2594">lookup()</tspan></text><text y="2320"><tspan x="2569">+</tspan><tspan x="2594">getNth()</tspan></text><text y="2340"><tspan x="2569">+</tspan><tspan x="2594">insert()</tspan></text><text x="2594" y="2360">and 12 more...</text><text y="2380"><tspan x="2569">-</tspan><tspan x="2594">getFirstSetBucket()</tspan></text><text y="2400"><tspan x="2569">-</tspan><tspan x="2594">check()</tspan></text><text y="2420"><tspan x="2569">-</tspan><tspan x="2594">rehash()</tspan></text><text y="2440"><tspan x="2569">-</tspan><tspan x="2594">nextIndex()</tspan></text><text y="2460"><tspan x="2569">-</tspan><tspan x="2594">findNextEmpty()</tspan></text><text y="2480"><tspan x="2569">-</tspan><tspan x="2594">findNextSet()</tspan></text><text y="2500"><tspan x="2569">-</tspan><tspan x="2594">findNextSet()</tspan></text><text y="2520"><tspan x="2569">-</tspan><tspan x="2594">doLookup()</tspan></text><text y="2540"><tspan x="2569">-</tspan><tspan x="2594">setDefaults()</tspan></text><text y="2560"><tspan x="2569">-</tspan><tspan x="2594">resetParents()</tspan></text></g>
<g id="n_listT"><rect class="bl" x="3129" y="2151" width="170" height="288"/><text class="c" x="3214" y="2168">List&lt; T, nodePoolSize &gt;</text><path class="sl" d="M3129,2175H3299M3129,2217H3299"/>
<text y="2190"><tspan x="3151">-</tspan><tspan x="3175">m_Count</tspan></text><text y="2210"><tspan x="3151">-</tspan><tspan x="3175">m_Magic</tspan></text>
<text y="2232"><tspan x="3151">+</tspan><tspan x="3175">List()</tspan></text><text y="2252"><tspan x="3151">+</tspan><tspan x="3175">List()</tspan></text><text y="2272"><tspan x="3151">+</tspan><tspan x="3175">~List()</tspan></text><text y="2292"><tspan x="3151">+</tspan><tspan x="3175">operator=()</tspan></text><text y="2312"><tspan x="3151">+</tspan><tspan x="3175">size()</tspan></text><text y="2332"><tspan x="3151">+</tspan><tspan x="3175">count()</tspan></text><text y="2352"><tspan x="3151">+</tspan><tspan x="3175">pushBack()</tspan></text><text y="2372"><tspan x="3151">+</tspan><tspan x="3175">pushBack()</tspan></text><text y="2392"><tspan x="3151">+</tspan><tspan x="3175">tryPushBack()</tspan></text><text y="2412"><tspan x="3151">+</tspan><tspan x="3175">tryPushBack()</tspan></text><text x="3175" y="2432">and 16 more...</text></g>
<g id="n_listmt"><rect class="bl" x="3201" y="3003" width="199" height="288"/><text class="c" x="3300.5" y="3020">List&lt; File::MonitorTarget * &gt;</text><path class="sl" d="M3201,3027H3400M3201,3069H3400"/>
<text y="3042"><tspan x="3232">-</tspan><tspan x="3262">m_Count</tspan></text><text y="3062"><tspan x="3232">-</tspan><tspan x="3262">m_Magic</tspan></text>
<text y="3084"><tspan x="3232">+</tspan><tspan x="3262">List()</tspan></text><text y="3104"><tspan x="3232">+</tspan><tspan x="3262">List()</tspan></text><text y="3124"><tspan x="3232">+</tspan><tspan x="3262">~List()</tspan></text><text y="3144"><tspan x="3232">+</tspan><tspan x="3262">operator=()</tspan></text><text y="3164"><tspan x="3232">+</tspan><tspan x="3262">size()</tspan></text><text y="3184"><tspan x="3232">+</tspan><tspan x="3262">count()</tspan></text><text y="3204"><tspan x="3232">+</tspan><tspan x="3262">pushBack()</tspan></text><text y="3224"><tspan x="3232">+</tspan><tspan x="3262">pushBack()</tspan></text><text y="3244"><tspan x="3232">+</tspan><tspan x="3262">tryPushBack()</tspan></text><text y="3264"><tspan x="3232">+</tspan><tspan x="3262">tryPushBack()</tspan></text><text x="3262" y="3284">and 16 more...</text></g>
<g id="n_vecaddr"><rect class="bo" x="355" y="2121" width="200" height="348"/><text class="c" x="455" y="2138">Vector&lt; Device::Address * &gt;</text><path class="so" d="M355,2145H555M355,2227H555"/>
<text y="2160"><tspan x="380">-</tspan><tspan x="407">m_Size</tspan></text><text y="2180"><tspan x="380">-</tspan><tspan x="407">m_Count</tspan></text><text y="2200"><tspan x="380">-</tspan><tspan x="407">m_Start</tspan></text><text y="2220"><tspan x="380">-</tspan><tspan x="407">m_ReserveFactor</tspan></text>
<text y="2242"><tspan x="380">+</tspan><tspan x="407">Vector()</tspan></text><text y="2262"><tspan x="380">+</tspan><tspan x="407">Vector()</tspan></text><text y="2282"><tspan x="380">+</tspan><tspan x="407">Vector()</tspan></text><text y="2302"><tspan x="380">+</tspan><tspan x="407">~Vector()</tspan></text><text y="2322"><tspan x="380">+</tspan><tspan x="407">operator=()</tspan></text><text y="2342"><tspan x="380">+</tspan><tspan x="407">operator[]()</tspan></text><text y="2362"><tspan x="380">+</tspan><tspan x="407">operator[]()</tspan></text><text y="2382"><tspan x="380">+</tspan><tspan x="407">size()</tspan></text><text y="2402"><tspan x="380">+</tspan><tspan x="407">count()</tspan></text><text y="2422"><tspan x="380">+</tspan><tspan x="407">pushBack()</tspan></text><text x="407" y="2442">and 25 more...</text><text y="2462"><tspan x="380">-</tspan><tspan x="407">reserve()</tspan></text></g>
<g id="n_string"><rect class="bd" x="582" y="2011" width="129" height="568"/><text class="c" x="646.5" y="2028">String</text><path class="sd" d="M582,2035H711M582,2117H711"/>
<text y="2050"><tspan x="593">-</tspan><tspan x="605">m_Data</tspan></text><text y="2070"><tspan x="593">-</tspan><tspan x="605">m_Length</tspan></text><text y="2090"><tspan x="593">-</tspan><tspan x="605">m_Size</tspan></text><text y="2110"><tspan x="593">-</tspan><tspan x="605">m_Hash</tspan></text>
<text y="2132"><tspan x="593">+</tspan><tspan x="605">String()</tspan></text><text y="2152"><tspan x="593">+</tspan><tspan x="605">String()</tspan></text><text y="2172"><tspan x="593">+</tspan><tspan x="605">String()</tspan></text><text y="2192"><tspan x="593">+</tspan><tspan x="605">String()</tspan></text><text y="2212"><tspan x="593">+</tspan><tspan x="605">String()</tspan></text><text y="2232"><tspan x="593">+</tspan><tspan x="605">String()</tspan></text><text y="2252"><tspan x="593">+</tspan><tspan x="605">String()</tspan></text><text y="2272"><tspan x="593">+</tspan><tspan x="605">String()</tspan></text><text y="2292"><tspan x="593">+</tspan><tspan x="605">~String()</tspan></text><text y="2312"><tspan x="593">+</tspan><tspan x="605">operator=()</tspan></text><text x="605" y="2332">and 50 more...</text><text y="2352"><tspan x="593">+</tspan><tspan x="605">Utf32ToUtf8()</tspan></text><text y="2372"><tspan x="593">#</tspan><tspan x="605">iswhitespace()</tspan></text><text y="2392"><tspan x="593">#</tspan><tspan x="605">reserve()</tspan></text><text y="2412"><tspan x="593">#</tspan><tspan x="605">computeHash()</tspan></text><text y="2432"><tspan x="593">#</tspan><tspan x="605">computeHash()</tspan></text><text y="2452"><tspan x="593">#</tspan><tspan x="605">setLength()</tspan></text><text y="2472"><tspan x="593">#</tspan><tspan x="605">setSize()</tspan></text><text y="2492"><tspan x="593">-</tspan><tspan x="605">maybeHash()</tspan></text><text y="2512"><tspan x="593">-</tspan><tspan x="605">extract()</tspan></text><text y="2532"><tspan x="593">-</tspan><tspan x="605">move()</tspan></text><text y="2552"><tspan x="593">-</tspan><tspan x="605">resizable()</tspan></text><text y="2572"><tspan x="593">-</tspan><tspan x="605">assignable()</tspan></text></g>
<g id="n_pcibus"><rect class="bl" x="736" y="2161" width="145" height="266"/><text class="c" x="808.5" y="2178">PciBus::ConfigSpace</text><path class="sl" d="M736,2185H881M736,2407H881"/>
<text y="2200"><tspan x="751">+</tspan><tspan x="766">vendor</tspan></text><text y="2220"><tspan x="751">+</tspan><tspan x="766">device</tspan></text><text y="2240"><tspan x="751">+</tspan><tspan x="766">command</tspan></text><text y="2260"><tspan x="751">+</tspan><tspan x="766">status</tspan></text><text y="2280"><tspan x="751">+</tspan><tspan x="766">revision</tspan></text><text y="2300"><tspan x="751">+</tspan><tspan x="766">progif</tspan></text><text y="2320"><tspan x="751">+</tspan><tspan x="766">subclass</tspan></text><text y="2340"><tspan x="751">+</tspan><tspan x="766">class_code</tspan></text><text y="2360"><tspan x="751">+</tspan><tspan x="766">cache_line_size</tspan></text><text y="2380"><tspan x="751">+</tspan><tspan x="766">latency_timer</tspan></text><text x="766" y="2400">and 13 more...</text></g>
<g id="n_mutex"><rect class="bd" x="1086" y="2231" width="206" height="126"/><text class="c" x="1189" y="2248">Mutex</text><path class="sd" d="M1086,2255H1292M1086,2275H1292"/>
<text y="2290"><tspan x="1096">+</tspan><tspan x="1109">Mutex()</tspan></text><text y="2310"><tspan x="1096">+</tspan><tspan x="1109">Mutex()</tspan></text><text y="2330"><tspan x="1096">+</tspan><tspan x="1109">~Mutex()</tspan></text><text y="2350"><tspan x="1096">+</tspan><tspan x="1109">isOwnedByCurrentThread()</tspan></text></g>
<g id="n_cache"><rect class="bd" x="1335" y="1961" width="190" height="668"/><text class="c" x="1430" y="1978">Cache</text><path class="sd" d="M1335,1985H1525M1335,2167H1525"/>
<text y="2000"><tspan x="1346">+</tspan><tspan x="1358">MaxWritebackPages</tspan></text><text y="2020"><tspan x="1346">-</tspan><tspan x="1358">m_DirtyTracking</tspan></text><text y="2040"><tspan x="1346">-</tspan><tspan x="1358">m_ManagerId</tspan></text><text y="2060"><tspan x="1346">-</tspan><tspan x="1358">m_PeriodicTimerEnabled</tspan></text><text y="2080"><tspan x="1346">-</tspan><tspan x="1358">m_Callback</tspan></text><text y="2100"><tspan x="1346">-</tspan><tspan x="1358">m_Nanoseconds</tspan></text><text y="2120"><tspan x="1346">-</tspan><tspan x="1358">m_WritebackEpoch</tspan></text><text y="2140"><tspan x="1346">-</tspan><tspan x="1358">m_CallbackMeta</tspan></text><text y="2160"><tspan x="1346">-</tspan><tspan x="1358">m_PageConstraints</tspan></text>
<text y="2182"><tspan x="1346">+</tspan><tspan x="1358">Cache()</tspan></text><text y="2202"><tspan x="1346">+</tspan><tspan x="1358">~Cache()</tspan></text><text y="2222"><tspan x="1346">+</tspan><tspan x="1358">shutdown()</tspan></text><text y="2242"><tspan x="1346">+</tspan><tspan x="1358">setCallback()</tspan></text><text y="2262"><tspan x="1346">+</tspan><tspan x="1358">setDirtyTracking()</tspan></text><text y="2282"><tspan x="1346">+</tspan><tspan x="1358">lookup()</tspan></text><text y="2302"><tspan x="1346">+</tspan><tspan x="1358">read()</tspan></text><text y="2322"><tspan x="1346">+</tspan><tspan x="1358">lookupStable()</tspan></text><text y="2342"><tspan x="1346">+</tspan><tspan x="1358">insert()</tspan></text><text y="2362"><tspan x="1346">+</tspan><tspan x="1358">insert()</tspan></text><text x="1358" y="2382">and 26 more...</text><text y="2402"><tspan x="1346">-</tspan><tspan x="1358">map()</tspan></text><text y="2422"><tspan x="1346">-</tspan><tspan x="1358">evict()</tspan></text><text y="2442"><tspan x="1346">-</tspan><tspan x="1358">finishRetirement()</tspan></text><text y="2462"><tspan x="1346">-</tspan><tspan x="1358">releaseWriteback()</tspan></text><text y="2482"><tspan x="1346">-</tspan><tspan x="1358">waitForPageEviction()</tspan></text><text y="2502"><tspan x="1346">-</tspan><tspan x="1358">ensureUsable()</tspan></text><text y="2522"><tspan x="1346">-</tspan><tspan x="1358">lruEvict()</tspan></text><text y="2542"><tspan x="1346">-</tspan><tspan x="1358">linkPage()</tspan></text><text y="2562"><tspan x="1346">-</tspan><tspan x="1358">promotePage()</tspan></text><text y="2582"><tspan x="1346">-</tspan><tspan x="1358">unlinkPage()</tspan></text><text x="1358" y="2602">and 10 more...</text><text y="2622"><tspan x="1346">-</tspan><tspan x="1358">discover_range()</tspan></text></g>
<g id="n_device"><rect class="bd" x="681" y="2704" width="256" height="888"/><text class="c" x="809" y="2721">Device</text><path class="sd" d="M681,2728H937M681,2930H937"/>
<text y="2743"><tspan x="692">#</tspan><tspan x="704">m_VirtualFunctionIndex</tspan></text><text y="2763"><tspan x="692">#</tspan><tspan x="704">m_InterruptNumber</tspan></text><text y="2783"><tspan x="692">#</tspan><tspan x="704">m_ClassCode</tspan></text><text y="2803"><tspan x="692">#</tspan><tspan x="704">m_SubclassCode</tspan></text><text y="2823"><tspan x="692">#</tspan><tspan x="704">m_VendorId</tspan></text><text y="2843"><tspan x="692">#</tspan><tspan x="704">m_DeviceId</tspan></text><text y="2863"><tspan x="692">#</tspan><tspan x="704">m_ProgInterface</tspan></text><text y="2883"><tspan x="692">#</tspan><tspan x="704">m_PciBusPos</tspan></text><text y="2903"><tspan x="692">#</tspan><tspan x="704">m_PciDevicePos</tspan></text><text y="2923"><tspan x="692">#</tspan><tspan x="704">m_PciFunctionNum</tspan></text>
<text y="2945"><tspan x="692">+</tspan><tspan x="704">Device()</tspan></text><text y="2965"><tspan x="692">+</tspan><tspan x="704">Device()</tspan></text><text y="2985"><tspan x="692">+</tspan><tspan x="704">~Device()</tspan></text><text y="3005"><tspan x="692">+</tspan><tspan x="704">getParent()</tspan></text><text y="3025"><tspan x="692">+</tspan><tspan x="704">setParent()</tspan></text><text y="3045"><tspan x="692">+</tspan><tspan x="704">getName()</tspan></text><text y="3065"><tspan x="692">+</tspan><tspan x="704">getType()</tspan></text><text y="3085"><tspan x="692">+</tspan><tspan x="704">getSpecificType()</tspan></text><text y="3105"><tspan x="692">+</tspan><tspan x="704">setSpecificType()</tspan></text><text y="3125"><tspan x="692">+</tspan><tspan x="704">setPciPosition()</tspan></text><text x="704" y="3145">and 24 more...</text><text y="3165"><tspan x="692">+</tspan><tspan x="704">treeLockHeldByCurrentThread()</tspan></text><text y="3185"><tspan x="692">+</tspan><tspan x="704">foreach()</tspan></text><text y="3205"><tspan x="692">+</tspan><tspan x="704">foreach()</tspan></text><text y="3225"><tspan x="692">+</tspan><tspan x="704">addToRoot()</tspan></text><text y="3245"><tspan x="692">+</tspan><tspan x="704">searchByVendorId()</tspan></text><text y="3265"><tspan x="692">+</tspan><tspan x="704">searchByVendorIdAndDeviceId()</tspan></text><text y="3285"><tspan x="692">+</tspan><tspan x="704">searchByClass()</tspan></text><text y="3305"><tspan x="692">+</tspan><tspan x="704">searchByClassAndSubclass()</tspan></text><text y="3322"><tspan x="692">+</tspan><tspan x="704">searchByClassSubclassAnd</tspan></text><text x="704" y="3337">ProgInterface()</text><text y="3360"><tspan x="692">#</tspan><tspan x="704">NOT_COPYABLE_OR_ASSIGNABLE()</tspan></text><text y="3380"><tspan x="692">#</tspan><tspan x="704">root()</tspan></text><text y="3400"><tspan x="692">-</tspan><tspan x="704">removeIoMappings()</tspan></text><text y="3420"><tspan x="692">-</tspan><tspan x="704">foreachInternal()</tspan></text><text y="3440"><tspan x="692">-</tspan><tspan x="704">foreachInternal()</tspan></text><text y="3460"><tspan x="692">-</tspan><tspan x="704">searchByVendorIdInternal()</tspan></text><text y="3477"><tspan x="692">-</tspan><tspan x="704">searchByVendorIdAndDevice</tspan></text><text x="704" y="3492">IdInternal()</text><text y="3515"><tspan x="692">-</tspan><tspan x="704">searchByClassInternal()</tspan></text><text y="3532"><tspan x="692">-</tspan><tspan x="704">searchByClassAndSubclass</tspan></text><text x="704" y="3547">Internal()</text><text y="3567"><tspan x="692">-</tspan><tspan x="704">searchByClassSubclassAnd</tspan></text><text x="704" y="3582">ProgInterfaceInternal()</text></g>
<g id="n_disk"><rect class="bd" x="615" y="3651" width="192" height="388"/><text class="c" x="711" y="3668">Disk</text><path class="sd" d="M615,3675H807M615,3737H807"/>
<text y="3690"><tspan x="626">+</tspan><tspan x="638">MaxReadBuffers</tspan></text><text y="3710"><tspan x="626">+</tspan><tspan x="638">MaxWriteBuffers</tspan></text><text y="3730"><tspan x="626">+</tspan><tspan x="638">MaxSyncPages</tspan></text>
<text y="3752"><tspan x="626">+</tspan><tspan x="638">Disk()</tspan></text><text y="3772"><tspan x="626">+</tspan><tspan x="638">Disk()</tspan></text><text y="3792"><tspan x="626">+</tspan><tspan x="638">~Disk()</tspan></text><text y="3812"><tspan x="626">+</tspan><tspan x="638">physicalDisk()</tspan></text><text y="3832"><tspan x="626">+</tspan><tspan x="638">acquireUse()</tspan></text><text y="3852"><tspan x="626">+</tspan><tspan x="638">endpointId()</tspan></text><text y="3872"><tspan x="626">+</tspan><tspan x="638">getPartitionUuid()</tspan></text><text y="3892"><tspan x="626">+</tspan><tspan x="638">getPartitionLabel()</tspan></text><text y="3912"><tspan x="626">+</tspan><tspan x="638">preparePagingTransport()</tspan></text><text y="3932"><tspan x="626">+</tspan><tspan x="638">retireEndpoint()</tspan></text><text x="638" y="3952">and 30 more...</text><text y="3972"><tspan x="626">#</tspan><tspan x="638">reserveEndpoint()</tspan></text><text y="3992"><tspan x="626">#</tspan><tspan x="638">publishEndpoint()</tspan></text><text y="4012"><tspan x="626">#</tspan><tspan x="638">acquireView()</tspan></text><text y="4032"><tspan x="626">#</tspan><tspan x="638">releaseView()</tspan></text></g>
<g id="n_vecdev"><rect class="bo" x="832" y="3671" width="141" height="348"/><text class="c" x="902.5" y="3688">Vector&lt; Device * &gt;</text><path class="so" d="M832,3695H973M832,3777H973"/>
<text y="3710"><tspan x="842">-</tspan><tspan x="855">m_Size</tspan></text><text y="3730"><tspan x="842">-</tspan><tspan x="855">m_Count</tspan></text><text y="3750"><tspan x="842">-</tspan><tspan x="855">m_Start</tspan></text><text y="3770"><tspan x="842">-</tspan><tspan x="855">m_ReserveFactor</tspan></text>
<text y="3792"><tspan x="842">+</tspan><tspan x="855">Vector()</tspan></text><text y="3812"><tspan x="842">+</tspan><tspan x="855">Vector()</tspan></text><text y="3832"><tspan x="842">+</tspan><tspan x="855">Vector()</tspan></text><text y="3852"><tspan x="842">+</tspan><tspan x="855">~Vector()</tspan></text><text y="3872"><tspan x="842">+</tspan><tspan x="855">operator=()</tspan></text><text y="3892"><tspan x="842">+</tspan><tspan x="855">operator[]()</tspan></text><text y="3912"><tspan x="842">+</tspan><tspan x="855">operator[]()</tspan></text><text y="3932"><tspan x="842">+</tspan><tspan x="855">size()</tspan></text><text y="3952"><tspan x="842">+</tspan><tspan x="855">count()</tspan></text><text y="3972"><tspan x="842">+</tspan><tspan x="855">pushBack()</tspan></text><text x="855" y="3992">and 25 more...</text><text y="4012"><tspan x="842">-</tspan><tspan x="855">reserve()</tspan></text></g>
<g id="n_pagingtransport"><rect class="bd" x="997" y="3791" width="154" height="106"/><text class="c" x="1074" y="3808">PagingTransport</text><path class="sd" d="M997,3815H1151M997,3835H1151"/>
<text y="3850"><tspan x="1009">+</tspan><tspan x="1021">transfer()</tspan></text><text y="3870"><tspan x="1009">+</tspan><tspan x="1021">release()</tspan></text><text y="3890"><tspan x="1009">#</tspan><tspan x="1021">~PagingTransport()</tspan></text></g>
<g id="n_control"><rect class="bd" x="213" y="3794" width="143" height="101"/><text class="c" x="284.5" y="3811">SharedPointer&lt; T &gt;</text><text class="c" x="284.5" y="3826">::Control</text><path class="sd" d="M213,3833H356M213,3875H356"/>
<text y="3848"><tspan x="239">+</tspan><tspan x="266">ptr</tspan></text><text y="3868"><tspan x="239">+</tspan><tspan x="266">refcount</tspan></text></g>
<g id="n_spT"><rect class="bd" x="213" y="4099" width="143" height="346"/><text class="c" x="284.5" y="4116">SharedPointer&lt; T &gt;</text><path class="sd" d="M213,4123H356M213,4143H356"/>
<text y="4158"><tspan x="225">+</tspan><tspan x="237">SharedPointer()</tspan></text><text y="4178"><tspan x="225">+</tspan><tspan x="237">SharedPointer()</tspan></text><text y="4198"><tspan x="225">+</tspan><tspan x="237">SharedPointer()</tspan></text><text y="4218"><tspan x="225">+</tspan><tspan x="237">~SharedPointer()</tspan></text><text y="4238"><tspan x="225">+</tspan><tspan x="237">SharedPointer()</tspan></text><text y="4258"><tspan x="225">+</tspan><tspan x="237">reset()</tspan></text><text y="4278"><tspan x="225">+</tspan><tspan x="237">reset()</tspan></text><text y="4298"><tspan x="225">+</tspan><tspan x="237">get()</tspan></text><text y="4318"><tspan x="225">+</tspan><tspan x="237">operator-&gt;()</tspan></text><text y="4338"><tspan x="225">+</tspan><tspan x="237">operator*()</tspan></text><text x="237" y="4358">and 11 more...</text><text y="4378"><tspan x="225">+</tspan><tspan x="237">allocate()</tspan></text><text y="4398"><tspan x="225">+</tspan><tspan x="237">tryAllocate()</tspan></text><text y="4418"><tspan x="225">+</tspan><tspan x="237">tryAdopt()</tspan></text><text y="4438"><tspan x="225">-</tspan><tspan x="237">release()</tspan></text></g>
<g id="n_spR"><rect class="bd" x="43" y="4507" width="187" height="361"/><text class="c" x="136.5" y="4524">SharedPointer&lt; Readiness</text><text class="c" x="136.5" y="4539">State &gt;</text><path class="sd" d="M43,4546H230M43,4566H230"/>
<text y="4581"><tspan x="65">+</tspan><tspan x="89">SharedPointer()</tspan></text><text y="4601"><tspan x="65">+</tspan><tspan x="89">SharedPointer()</tspan></text><text y="4621"><tspan x="65">+</tspan><tspan x="89">SharedPointer()</tspan></text><text y="4641"><tspan x="65">+</tspan><tspan x="89">SharedPointer()</tspan></text><text y="4661"><tspan x="65">+</tspan><tspan x="89">~SharedPointer()</tspan></text><text y="4681"><tspan x="65">+</tspan><tspan x="89">reset()</tspan></text><text y="4701"><tspan x="65">+</tspan><tspan x="89">reset()</tspan></text><text y="4721"><tspan x="65">+</tspan><tspan x="89">get()</tspan></text><text y="4741"><tspan x="65">+</tspan><tspan x="89">operator-&gt;()</tspan></text><text y="4761"><tspan x="65">+</tspan><tspan x="89">operator*()</tspan></text><text x="89" y="4781">and 11 more...</text><text y="4801"><tspan x="65">+</tspan><tspan x="89">allocate()</tspan></text><text y="4821"><tspan x="65">+</tspan><tspan x="89">tryAllocate()</tspan></text><text y="4841"><tspan x="65">+</tspan><tspan x="89">tryAdopt()</tspan></text><text y="4861"><tspan x="65">-</tspan><tspan x="89">release()</tspan></text></g>
<g id="n_spF"><rect class="bd" x="344" y="4507" width="180" height="361"/><text class="c" x="434" y="4524">SharedPointer&lt; FileEvent</text><text class="c" x="434" y="4539">State &gt;</text><path class="sd" d="M344,4546H524M344,4566H524"/>
<text y="4581"><tspan x="364">+</tspan><tspan x="387">SharedPointer()</tspan></text><text y="4601"><tspan x="364">+</tspan><tspan x="387">SharedPointer()</tspan></text><text y="4621"><tspan x="364">+</tspan><tspan x="387">SharedPointer()</tspan></text><text y="4641"><tspan x="364">+</tspan><tspan x="387">SharedPointer()</tspan></text><text y="4661"><tspan x="364">+</tspan><tspan x="387">~SharedPointer()</tspan></text><text y="4681"><tspan x="364">+</tspan><tspan x="387">reset()</tspan></text><text y="4701"><tspan x="364">+</tspan><tspan x="387">reset()</tspan></text><text y="4721"><tspan x="364">+</tspan><tspan x="387">get()</tspan></text><text y="4741"><tspan x="364">+</tspan><tspan x="387">operator-&gt;()</tspan></text><text y="4761"><tspan x="364">+</tspan><tspan x="387">operator*()</tspan></text><text x="387" y="4781">and 11 more...</text><text y="4801"><tspan x="364">+</tspan><tspan x="387">allocate()</tspan></text><text y="4821"><tspan x="364">+</tspan><tspan x="387">tryAllocate()</tspan></text><text y="4841"><tspan x="364">+</tspan><tspan x="387">tryAdopt()</tspan></text><text y="4861"><tspan x="364">-</tspan><tspan x="387">release()</tspan></text></g>
<g id="n_readiness"><rect class="bd" x="115" y="5089" width="182" height="206"/><text class="c" x="206" y="5106">ReadinessSource</text><path class="sd" d="M115,5113H297M115,5133H297"/>
<text y="5148"><tspan x="126">+</tspan><tspan x="139">ReadinessSource()</tspan></text><text y="5168"><tspan x="126">+</tspan><tspan x="139">~ReadinessSource()</tspan></text><text y="5188"><tspan x="126">+</tspan><tspan x="139">subscribeReadiness()</tspan></text><text y="5208"><tspan x="126">+</tspan><tspan x="139">readinessGenerations()</tspan></text><text y="5228"><tspan x="126">#</tspan><tspan x="139">notifyReadiness()</tspan></text><text y="5248"><tspan x="126">#</tspan><tspan x="139">closeReadiness()</tspan></text><text y="5268"><tspan x="126">-</tspan><tspan x="139">ReadinessSource()</tspan></text><text y="5288"><tspan x="126">-</tspan><tspan x="139">operator=()</tspan></text></g>
<g id="n_fileevent"><rect class="bd" x="345" y="5049" width="190" height="286"/><text class="c" x="440" y="5066">FileEventSource</text><path class="sd" d="M345,5073H535M345,5093H535"/>
<text y="5108"><tspan x="356">+</tspan><tspan x="369">FileEventSource()</tspan></text><text y="5128"><tspan x="356">+</tspan><tspan x="369">~FileEventSource()</tspan></text><text y="5148"><tspan x="356">+</tspan><tspan x="369">subscribeFileEvents()</tspan></text><text y="5168"><tspan x="356">#</tspan><tspan x="369">hasFileEventObservers()</tspan></text><text y="5188"><tspan x="356">#</tspan><tspan x="369">notifyFileEvent()</tspan></text><text y="5208"><tspan x="356">#</tspan><tspan x="369">notifyFinalFileEvent()</tspan></text><text y="5228"><tspan x="356">#</tspan><tspan x="369">beginFinalFileEvent()</tspan></text><text y="5248"><tspan x="356">#</tspan><tspan x="369">drainFileEvents()</tspan></text><text y="5268"><tspan x="356">#</tspan><tspan x="369">closeFileEvents()</tspan></text><text y="5288"><tspan x="356">#</tspan><tspan x="369">anyFileEventObservers()</tspan></text><text y="5308"><tspan x="356">-</tspan><tspan x="369">FileEventSource()</tspan></text><text y="5328"><tspan x="356">-</tspan><tspan x="369">operator=()</tspan></text></g>
<g id="n_diskendpoint"><rect class="bl" x="853" y="4159" width="100" height="226"/><text class="c" x="903" y="4176">DiskEndpoint</text><path class="sl" d="M853,4183H953M853,4365H953"/>
<text y="4198"><tspan x="866">+</tspan><tspan x="882">id</tspan></text><text y="4218"><tspan x="866">+</tspan><tspan x="882">users</tspan></text><text y="4238"><tspan x="866">+</tspan><tspan x="882">transfers</tspan></text><text y="4258"><tspan x="866">+</tspan><tspan x="882">published</tspan></text><text y="4278"><tspan x="866">+</tspan><tspan x="882">retiring</tspan></text><text y="4298"><tspan x="866">+</tspan><tspan x="882">removal</tspan></text><text y="4318"><tspan x="866">+</tspan><tspan x="882">preparing</tspan></text><text y="4338"><tspan x="866">+</tspan><tspan x="882">closing</tspan></text><text y="4358"><tspan x="866">+</tspan><tspan x="882">bytes</tspan></text></g>
<g id="n_pagingchannel"><rect class="bd" x="774" y="4543" width="144" height="288"/><text class="c" x="846" y="4560">PagingChannel</text><path class="sd" d="M774,4567H918M774,4589H918"/>
<text y="4582"><tspan x="784">+</tspan><tspan x="797">PageBytes</tspan></text>
<text y="4604"><tspan x="784">+</tspan><tspan x="797">PagingChannel()</tspan></text><text y="4624"><tspan x="784">+</tspan><tspan x="797">~PagingChannel()</tspan></text><text y="4644"><tspan x="784">+</tspan><tspan x="797">PagingChannel()</tspan></text><text y="4664"><tspan x="784">+</tspan><tspan x="797">operator=()</tspan></text><text y="4684"><tspan x="784">+</tspan><tspan x="797">readPage()</tspan></text><text y="4704"><tspan x="784">+</tspan><tspan x="797">writePage()</tspan></text><text y="4724"><tspan x="784">+</tspan><tspan x="797">flush()</tspan></text><text y="4744"><tspan x="784">+</tspan><tspan x="797">reset()</tspan></text><text y="4764"><tspan x="784">+</tspan><tspan x="797">endpointId()</tspan></text><text y="4784"><tspan x="784">+</tspan><tspan x="797">size()</tspan></text><text y="4804"><tspan x="784">+</tspan><tspan x="797">operator bool()</tspan></text><text y="4824"><tspan x="784">-</tspan><tspan x="797">transfer()</tspan></text></g>
<g id="n_diskuse"><rect class="bd" x="967" y="4574" width="126" height="226"/><text class="c" x="1030" y="4591">DiskUse</text><path class="sd" d="M967,4598H1093M967,4618H1093"/>
<text y="4633"><tspan x="978">+</tspan><tspan x="990">DiskUse()</tspan></text><text y="4653"><tspan x="978">+</tspan><tspan x="990">DiskUse()</tspan></text><text y="4673"><tspan x="978">+</tspan><tspan x="990">~DiskUse()</tspan></text><text y="4693"><tspan x="978">+</tspan><tspan x="990">operator=()</tspan></text><text y="4713"><tspan x="978">+</tspan><tspan x="990">reset()</tspan></text><text y="4733"><tspan x="978">+</tspan><tspan x="990">get()</tspan></text><text y="4753"><tspan x="978">+</tspan><tspan x="990">operator bool()</tspan></text><text y="4773"><tspan x="978">-</tspan><tspan x="990">DiskUse()</tspan></text><text y="4793"><tspan x="978">-</tspan><tspan x="990">operator=()</tspan></text></g>
<g id="n_filesystem"><rect class="bd" x="958" y="4929" width="144" height="528"/><text class="c" x="1030" y="4946">Filesystem</text><path class="sd" d="M958,4953H1102M958,4975H1102"/>
<text y="4968"><tspan x="968">#</tspan><tspan x="981">m_bReadOnly</tspan></text>
<text y="4990"><tspan x="968">+</tspan><tspan x="981">Filesystem()</tspan></text><text y="5010"><tspan x="968">+</tspan><tspan x="981">~Filesystem()</tspan></text><text y="5030"><tspan x="968">+</tspan><tspan x="981">initialise()</tspan></text><text y="5050"><tspan x="968">+</tspan><tspan x="981">find()</tspan></text><text y="5070"><tspan x="968">+</tspan><tspan x="981">find()</tspan></text><text y="5090"><tspan x="968">+</tspan><tspan x="981">find()</tspan></text><text y="5110"><tspan x="968">+</tspan><tspan x="981">find()</tspan></text><text y="5130"><tspan x="968">+</tspan><tspan x="981">findRetained()</tspan></text><text y="5150"><tspan x="968">+</tspan><tspan x="981">getRoot()</tspan></text><text y="5170"><tspan x="968">+</tspan><tspan x="981">getVolumeLabel()</tspan></text><text x="981" y="5190">and 18 more...</text><text y="5210"><tspan x="968">#</tspan><tspan x="981">createFile()</tspan></text><text y="5230"><tspan x="968">#</tspan><tspan x="981">createDirectory()</tspan></text><text y="5250"><tspan x="968">#</tspan><tspan x="981">createSymlink()</tspan></text><text y="5270"><tspan x="968">#</tspan><tspan x="981">createLink()</tspan></text><text y="5290"><tspan x="968">#</tspan><tspan x="981">removeNode()</tspan></text><text y="5310"><tspan x="968">#</tspan><tspan x="981">renameNode()</tspan></text><text y="5330"><tspan x="968">-</tspan><tspan x="981">removeChild()</tspan></text><text y="5350"><tspan x="968">-</tspan><tspan x="981">renameChildren()</tspan></text><text y="5370"><tspan x="968">-</tspan><tspan x="981">findNode()</tspan></text><text y="5390"><tspan x="968">-</tspan><tspan x="981">findNode()</tspan></text><text y="5410"><tspan x="968">-</tspan><tspan x="981">findParent()</tspan></text><text y="5430"><tspan x="968">-</tspan><tspan x="981">Filesystem()</tspan></text><text y="5450"><tspan x="968">-</tspan><tspan x="981">operator=()</tspan></text></g>
<g id="n_file"><rect class="bd" x="923" y="5518" width="213" height="988"/><text class="c" x="1029.5" y="5535">File</text><path class="sd" d="M923,5542H1136M923,5844H1136"/>
<text y="5557"><tspan x="934">+</tspan><tspan x="946">MaxReadPages</tspan></text><text y="5577"><tspan x="934">#</tspan><tspan x="946">m_AccessedTime</tspan></text><text y="5597"><tspan x="934">#</tspan><tspan x="946">m_ModifiedTime</tspan></text><text y="5617"><tspan x="934">#</tspan><tspan x="946">m_CreationTime</tspan></text><text y="5637"><tspan x="934">#</tspan><tspan x="946">m_Inode</tspan></text><text y="5657"><tspan x="934">#</tspan><tspan x="946">m_FutexIdentity</tspan></text><text y="5677"><tspan x="934">#</tspan><tspan x="946">m_Size</tspan></text><text y="5697"><tspan x="934">#</tspan><tspan x="946">m_bDetachedParentHandled</tspan></text><text y="5717"><tspan x="934">#</tspan><tspan x="946">m_nWriters</tspan></text><text y="5737"><tspan x="934">#</tspan><tspan x="946">m_nReaders</tspan></text><text y="5757"><tspan x="934">#</tspan><tspan x="946">m_Uid</tspan></text><text y="5777"><tspan x="934">#</tspan><tspan x="946">m_Gid</tspan></text><text y="5797"><tspan x="934">#</tspan><tspan x="946">m_Permissions</tspan></text><text y="5817"><tspan x="934">#</tspan><tspan x="946">m_bDirect</tspan></text><text y="5837"><tspan x="934">#</tspan><tspan x="946">m_PhysicalPageLoans</tspan></text>
<text y="5859"><tspan x="934">+</tspan><tspan x="946">File()</tspan></text><text y="5879"><tspan x="934">+</tspan><tspan x="946">File()</tspan></text><text y="5899"><tspan x="934">+</tspan><tspan x="946">~File()</tspan></text><text y="5919"><tspan x="934">+</tspan><tspan x="946">read()</tspan></text><text y="5939"><tspan x="934">+</tspan><tspan x="946">readCached()</tspan></text><text y="5959"><tspan x="934">+</tspan><tspan x="946">write()</tspan></text><text y="5979"><tspan x="934">+</tspan><tspan x="946">append()</tspan></text><text y="5999"><tspan x="934">+</tspan><tspan x="946">lockWrites()</tspan></text><text y="6019"><tspan x="934">+</tspan><tspan x="946">getPhysicalPage()</tspan></text><text y="6039"><tspan x="934">+</tspan><tspan x="946">isDirectPhysicalMapping()</tspan></text><text x="946" y="6059">and 82 more...</text><text y="6079"><tspan x="934">#</tspan><tspan x="946">updateAttributes()</tspan></text><text y="6099"><tspan x="934">#</tspan><tspan x="946">changeOwnership()</tspan></text><text y="6119"><tspan x="934">#</tspan><tspan x="946">allowPhysicalPage()</tspan></text><text y="6139"><tspan x="934">#</tspan><tspan x="946">prepareWrite()</tspan></text><text y="6159"><tspan x="934">#</tspan><tspan x="946">allowResize()</tspan></text><text y="6179"><tspan x="934">#</tspan><tspan x="946">prepareShrink()</tspan></text><text y="6199"><tspan x="934">#</tspan><tspan x="946">resizeFile()</tspan></text><text y="6219"><tspan x="934">#</tspan><tspan x="946">allocateFileRange()</tspan></text><text y="6239"><tspan x="934">#</tspan><tspan x="946">writeSerializationLock()</tspan></text><text y="6259"><tspan x="934">#</tspan><tspan x="946">dataMutationLock()</tspan></text><text x="946" y="6279">and 30 more...</text><text y="6299"><tspan x="934">#</tspan><tspan x="946">writeCallback()</tspan></text><text y="6319"><tspan x="934">#</tspan><tspan x="946">fillCacheCallback()</tspan></text><text y="6339"><tspan x="934">-</tspan><tspan x="946">File()</tspan></text><text y="6359"><tspan x="934">-</tspan><tspan x="946">operator=()</tspan></text><text y="6379"><tspan x="934">-</tspan><tspan x="946">publishWriteMetadata()</tspan></text><text y="6399"><tspan x="934">-</tspan><tspan x="946">writeUnlocked()</tspan></text><text y="6419"><tspan x="934">-</tspan><tspan x="946">getCachedPage()</tspan></text><text y="6439"><tspan x="934">-</tspan><tspan x="946">setCachedPage()</tspan></text><text y="6459"><tspan x="934">-</tspan><tspan x="946">readIntoCache()</tspan></text><text y="6479"><tspan x="934">-</tspan><tspan x="946">populateRangeLocked()</tspan></text><text y="6499"><tspan x="934">-</tspan><tspan x="946">releaseReadReference()</tspan></text></g>
<g id="n_serial"><rect class="bd" x="1332" y="5868" width="130" height="286"/><text class="c" x="1397" y="5885">Serial</text><path class="sd" d="M1332,5892H1462M1332,5912H1462"/>
<text y="5927"><tspan x="1343">+</tspan><tspan x="1356">~Serial()</tspan></text><text y="5947"><tspan x="1343">+</tspan><tspan x="1356">setBase()</tspan></text><text y="5967"><tspan x="1343">+</tspan><tspan x="1356">hasData()</tspan></text><text y="5987"><tspan x="1343">+</tspan><tspan x="1356">read()</tspan></text><text y="6007"><tspan x="1343">+</tspan><tspan x="1356">readNonBlock()</tspan></text><text y="6027"><tspan x="1343">+</tspan><tspan x="1356">write()</tspan></text><text y="6047"><tspan x="1343">+</tspan><tspan x="1356">write_str()</tspan></text><text y="6067"><tspan x="1343">+</tspan><tspan x="1356">write_str()</tspan></text><text y="6087"><tspan x="1343">+</tspan><tspan x="1356">write_str()</tspan></text><text y="6107"><tspan x="1343">+</tspan><tspan x="1356">write_str()</tspan></text><text y="6127"><tspan x="1343">+</tspan><tspan x="1356">write_str()</tspan></text><text y="6147"><tspan x="1343">+</tspan><tspan x="1356">write_str()</tspan></text></g>
<g id="n_serialfile"><rect class="bg" x="1147" y="6566" width="132" height="166"/><text class="c" x="1213" y="6583">SerialFile</text><path class="sd" d="M1147,6590H1279M1147,6610H1279"/>
<text y="6625"><tspan x="1158">+</tspan><tspan x="1170">SerialFile()</tspan></text><text y="6645"><tspan x="1158">+</tspan><tspan x="1170">~SerialFile()</tspan></text><text y="6665"><tspan x="1158">+</tspan><tspan x="1170">readBytewise()</tspan></text><text y="6685"><tspan x="1158">+</tspan><tspan x="1170">writeBytewise()</tspan></text><text y="6705"><tspan x="1158">+</tspan><tspan x="1170">select()</tspan></text><text y="6725"><tspan x="1158">-</tspan><tspan x="1170">isBytewise()</tspan></text></g>
<g id="n_cachestate"><rect class="bl" x="1399" y="3103" width="171" height="88"/><text class="c" x="1484.5" y="3120">File::CacheState</text><path class="sl" d="M1399,3127H1570M1399,3169H1570"/>
<text y="3142"><tspan x="1410">+</tspan><tspan x="1422">executableMappings</tspan></text><text y="3162"><tspan x="1410">+</tspan><tspan x="1422">sharedWriteMappings</tspan></text><text y="3184"><tspan x="1410">+</tspan><tspan x="1422">CacheState()</tspan></text></g>
</svg>
